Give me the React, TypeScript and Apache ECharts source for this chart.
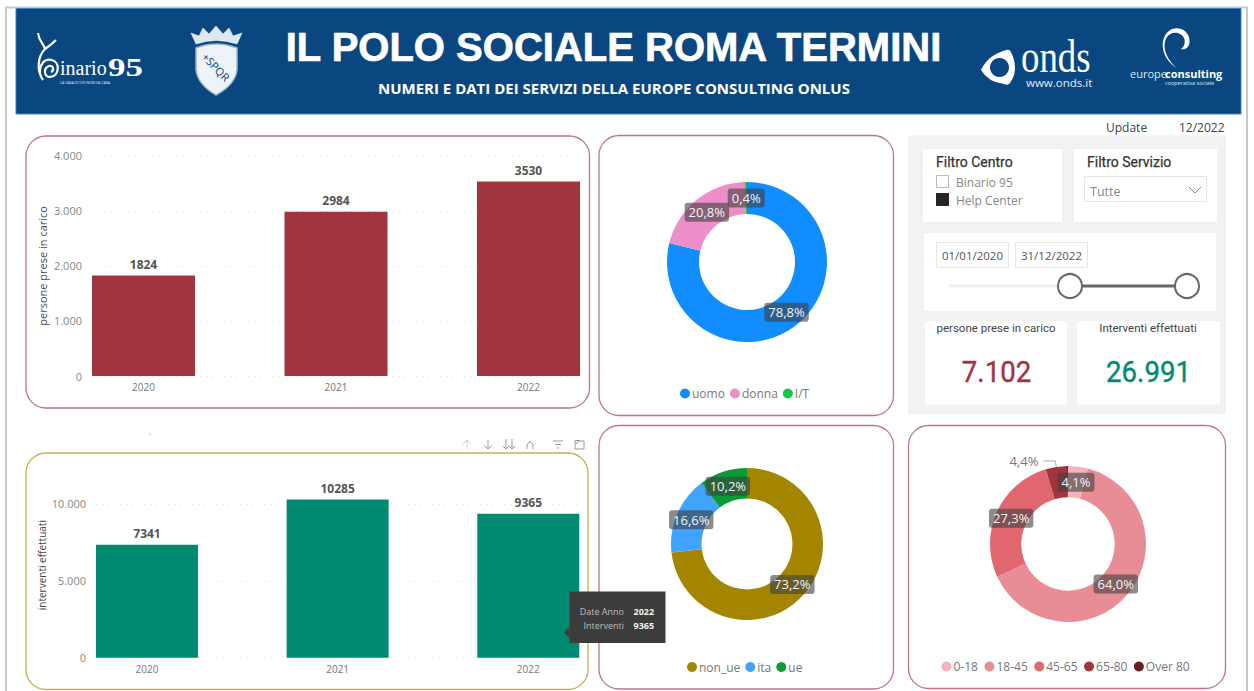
import React, { useEffect, useRef } from "react";
import * as echarts from "echarts";

const years = ["2020", "2021", "2022"];
const persone = [1824, 2984, 3530];
const interventi = [7341, 10285, 9365];

const genderNames = ["uomo", "donna", "I/T"];
const genderValues = [78.8, 20.8, 0.4];
const genderColors = ["#118DFF", "#EC8FC8", "#12C94A"];

const originNames = ["non_ue", "ita", "ue"];
const originValues = [73.2, 16.6, 10.2];
const originColors = ["#A38500", "#3FA3FF", "#0B9A35"];

const ageNames = ["0-18", "18-45", "45-65", "65-80", "Over 80"];
const ageValues = [4.1, 64.0, 27.3, 4.4, 0.2];
const ageColors = ["#F0B4BA", "#E88D96", "#E0666F", "#A0353F", "#6B1C24"];

const UI = '"Open Sans", "Noto Sans", sans-serif';
const DIN = 'Roboto, "Noto Sans", sans-serif';
const HEADER = "#0A4780";
const RED = "#A0353F";
const TEAL = "#008A72";

echarts.graphic.registerShape("snailLogo", echarts.graphic.extendPath(
  "M38 33 C39 42 44 44 45 49 C38 56 36 70 43 80 C36 70 42 58 52 60 C60 62 60 76 50 77 C44 77 43 68 49 66 C53 65 55 70 51 72 M45 49 C48 47 52 44 56 40", {}));
echarts.graphic.registerShape("crestShield", echarts.graphic.extendPath(
  "M196 48 Q216 40 237 48 L237 70 Q235 85 216 95 Q198 85 196 70 Z", {}));
echarts.graphic.registerShape("crestCrown", echarts.graphic.extendPath(
  "M196 44 L191 33 L199 36 L203 28 L209 34 L216 26 L223 34 L229 28 L233 36 L242 33 L237 44 Q216 37 196 44 Z", {}));
echarts.graphic.registerShape("ondsIcon", echarts.graphic.extendPath(
  "M981 70 Q988 55 1006 50 Q1010 49 1011 52 Q1015 60 1015 68 Q1015 76 1010 83 Q1008 86 1004 84 Q988 82 981 70 Z", {}));
echarts.graphic.registerShape("swirl", echarts.graphic.extendPath(
  "M1177 68 C1160 58 1158 36 1172 29 C1184 25 1192 36 1189 45 C1187 49 1184 50 1181 49 C1186 46 1187 36 1178 33 C1168 31 1163 40 1165 50 C1167 58 1172 64 1177 68 Z", {}));

const fmtDot = (v: number) => String(v).replace(/\B(?=(\d{3})+(?!\d))/g, ".");
const fmtPct = (v: number) => v.toFixed(1).replace(".", ",") + "%";

const text = (t: string, x: number, y: number, fill: string, font: string, align = "left", extra: any = {}, styleExtra: any = {}) => ({
  type: "text",
  z: 5,
  ...extra,
  style: { text: t, x, y, fill, font, textAlign: align, textVerticalAlign: "middle", ...styleExtra },
});
const box = (x: number, y: number, w: number, h: number, fill: string, stroke?: string, r = 0, lw = 1, z = 1) => ({
  type: "rect",
  z,
  shape: { x, y, width: w, height: h, r },
  style: { fill, stroke: stroke ?? "none", lineWidth: lw },
});
const poly = (points: number[][], stroke: string, lw = 1, z = 5) => ({
  type: "polyline",
  z,
  shape: { points },
  style: { stroke, fill: "none", lineWidth: lw },
});

function barAxis(gridIndex: number, halfSpan: number) {
  return {
    type: "value",
    gridIndex,
    z: 2,
    min: -halfSpan,
    max: 2 + halfSpan,
    splitLine: { show: false },
    axisLine: { show: false },
    axisTick: { show: false },
    axisLabel: {
      customValues: [0, 1, 2],
      formatter: (v: number) => years[Math.round(v)],
      color: "#777",
      fontSize: 10,
      fontFamily: UI,
      margin: 6,
    },
  };
}
const splitDots = { show: true, showMaxLine: false, lineStyle: { color: "#DDD", type: [1, 5], width: 1 } };

function barSeries(values: number[], color: string, gridIndex: number, width: number) {
  return {
    type: "bar",
    xAxisIndex: gridIndex,
    yAxisIndex: gridIndex,
    barWidth: width,
    z: 3,
    data: values.map((v, i) => [i, v]),
    itemStyle: { color },
    label: {
      show: true,
      position: "top",
      distance: 5,
      formatter: (p: any) => String(p.value[1]),
      color: "#555",
      fontSize: 12,
      fontWeight: "bold",
      fontFamily: UI,
    },
  };
}

function donut(names: string[], values: number[], colors: string[], cx: number, cy: number, r0: number, r: number) {
  return {
    type: "pie",
    center: [cx, cy],
    radius: [r0, r],
    startAngle: 90,
    clockwise: true,
    avoidLabelOverlap: false,
    silent: true,
    z: 3,
    labelLayout: (p: any) => {
      if (names[p.dataIndex] === "65-80") return {};
      const dx = p.labelRect.x + p.labelRect.width / 2 - cx;
      const dy = p.labelRect.y + p.labelRect.height / 2 - cy;
      const d = Math.hypot(dx, dy) || 1;
      return { dx: (-3 * dx) / d, dy: (-3 * dy) / d };
    },
    label: {
      show: true,
      position: "inside",
      formatter: (p: any) => fmtPct(p.value),
      color: "#F4F4F4",
      fontSize: 13,
      fontFamily: UI,
      backgroundColor: "rgba(64,64,64,0.6)",
      borderRadius: 3,
      padding: [3, 4, 3, 4],
    },
    data: names.map((name, i) => {
      const item: any = { name, value: values[i], itemStyle: { color: colors[i] } };
      if (name === "Over 80") item.label = { show: false };
      if (name === "65-80") {
        item.label = {
          position: "outside",
          color: "#777",
          backgroundColor: "transparent",
          padding: 0,
          alignTo: "none",
        };
        item.labelLine = { show: true, length: 6, length2: 12, smooth: false, lineStyle: { color: "#AAA", width: 1 } };
      }
      return item;
    }),
  };
}

function legend(names: string[], left: number, top: number, gap: number) {
  return {
    data: names,
    left,
    top,
    orient: "horizontal",
    icon: "circle",
    itemWidth: 10,
    itemHeight: 10,
    itemGap: gap,
    padding: 0,
    selectedMode: false,
    textStyle: { color: "#777", fontSize: 12, fontFamily: UI, padding: [0, 0, 0, -3] },
  };
}

function buildGraphics() {
  const CARD = "#C0767E";
  const GOLD = "#C9AE4E";
  const els: any[] = [
    // page frame + header
    poly([[6, 691], [6, 7.5], [1247, 7.5], [1247, 691]], "#C8C8C8", 2, 0),
    box(16, 8.5, 1225, 105.5, HEADER, "#3F83BE", 0, 1),
    text("IL POLO SOCIALE ROMA TERMINI", 613.5, 47, "#FFFFFF", 'bold 40px "Liberation Sans", sans-serif', "center", {}, { stroke: "#FFFFFF", lineWidth: 0.7 }),
    text("NUMERI E DATI DEI SERVIZI DELLA EUROPE CONSULTING ONLUS", 614, 87.5, "#FFFFFF", `bold 15px ${UI}`, "center"),

    // binario95 logo
    { type: "snailLogo", z: 4, style: { fill: "none", stroke: "#FFFFFF", lineWidth: 2.2 } },
    text("inario", 60, 68, "#FFFFFF", '20px "Liberation Serif", serif'),
    text("95", 108, 68, "#FFFFFF", 'bold 25px "Liberation Serif", serif', "left", { scaleX: 1.4, originX: 108, originY: 68 }),
    text("LA CASA DI CHI NON HA CASA", 60, 82, "#E6EEF5", `3.6px ${UI}`),

    // crest
    { type: "crestCrown", z: 4, style: { fill: "#DCE7F0", stroke: "#FFFFFF", lineWidth: 0.5 } },
    { type: "crestShield", z: 4, style: { fill: "#EEF3F8", stroke: "#9DB5CB", lineWidth: 1.5 } },
    text("+SPQR", 216, 67, HEADER, `11px ${UI}`, "center", { rotation: -0.8, originX: 216, originY: 67 }),

    // onds logo
    { type: "ondsIcon", z: 4, style: { fill: "#FFFFFF" } },
    { type: "circle", z: 5, shape: { cx: 999.5, cy: 67.5, r: 9.5 }, style: { fill: HEADER } },
    text("onds", 1021, 57, "#FFFFFF", '46px "Liberation Serif", serif', "left", { scaleX: 0.8, originX: 1021, originY: 57 }),
    text("www.onds.it", 1026, 82.5, "#E6EEF5", `11.5px ${UI}`),

    // europeconsulting logo
    { type: "swirl", z: 4, style: { fill: "#FFFFFF" } },
    text("europe", 1130, 73.5, "#DDE7F0", `11px ${UI}`),
    text("consulting", 1165, 73.5, "#FFFFFF", `bold 11px ${UI}`),
    text("cooperativa sociale", 1165, 83, "#DDE7F0", `5.5px ${UI}`),

    // update
    text("Update", 1106, 127, "#444", `12px ${UI}`),
    text("12/2022", 1179, 127, "#444", `12px ${UI}`),

    // cards
    box(26, 136, 563.5, 272, "#FFF", CARD, 20, 1.3),
    box(599, 135.5, 294.5, 280, "#FFF", CARD, 20, 1.3),
    box(26, 453, 562, 236.5, "#FFF", GOLD, 20, 1.3),
    box(599, 425.5, 294.5, 263.5, "#FFF", CARD, 20, 1.3),
    box(908.5, 425.5, 317, 263, "#FFF", CARD, 20, 1.3),

    // filter panel
    box(908, 135.5, 318, 278.5, "#F2F2F2"),
    box(923, 149, 139, 73, "#FFF", undefined, 0, 1, 2),
    box(1074, 149, 143, 73, "#FFF", undefined, 0, 1, 2),
    box(924, 233, 292, 78, "#FFF", undefined, 0, 1, 2),
    box(925, 321, 142, 83.5, "#FFF", undefined, 0, 1, 2),
    box(1077, 321, 143, 83.5, "#FFF", undefined, 0, 1, 2),

    text("Filtro Centro", 936, 162, "#333", `14px ${DIN}`, "left", {}, { stroke: "#333", lineWidth: 0.25 }),
    box(936.5, 175.5, 12, 12, "#FFF", "#BBB", 0, 1, 3),
    box(936, 193, 13, 13, "#252525", undefined, 0, 1, 3),
    text("Binario 95", 956, 182, "#888", `12px ${UI}`),
    text("Help Center", 956, 200, "#888", `12px ${UI}`),

    text("Filtro Servizio", 1087, 162, "#333", `14px ${DIN}`, "left", {}, { stroke: "#333", lineWidth: 0.25 }),
    box(1084.5, 176.5, 122, 25, "#FFF", "#E6E6E6", 0, 1, 3),
    text("Tutte", 1090, 191, "#888", `12.5px ${UI}`),
    poly([[1189, 187], [1195, 193], [1201, 187]], "#888", 1),

    box(936.5, 242.5, 72, 25, "#FFF", "#E6E6E6", 0, 1, 3),
    box(1015.5, 242.5, 72, 25, "#FFF", "#E6E6E6", 0, 1, 3),
    text("01/01/2020", 972.5, 255.5, "#555", `11.5px ${UI}`, "center"),
    text("31/12/2022", 1051.5, 255.5, "#555", `11.5px ${UI}`, "center"),
    { type: "line", z: 3, shape: { x1: 949, y1: 286, x2: 1070, y2: 286 }, style: { stroke: "#EFEFEF", lineWidth: 3 } },
    { type: "line", z: 3, shape: { x1: 1070, y1: 286, x2: 1187, y2: 286 }, style: { stroke: "#666", lineWidth: 3 } },
    { type: "circle", z: 4, shape: { cx: 1070, cy: 286, r: 12 }, style: { fill: "#FFF", stroke: "#666", lineWidth: 2 } },
    { type: "circle", z: 4, shape: { cx: 1187, cy: 286, r: 12 }, style: { fill: "#FFF", stroke: "#666", lineWidth: 2 } },

    text("persone prese in carico", 996, 328, "#444", `11.5px ${DIN}`, "center"),
    text("7.102", 996.5, 372, RED, `30px ${DIN}`, "center", { scaleX: 0.92, originX: 996.5, originY: 372 }, { stroke: RED, lineWidth: 0.4 }),
    text("Interventi effettuati", 1148, 328, "#444", `11.5px ${DIN}`, "center"),
    text("26.991", 1148.5, 372, TEAL, `30px ${DIN}`, "center", { scaleX: 0.92, originX: 1148.5, originY: 372 }, { stroke: TEAL, lineWidth: 0.4 }),

    // small mark above the lower bar card
    { type: "line", z: 1, shape: { x1: 150, y1: 433, x2: 150, y2: 435 }, style: { stroke: "#BBB", lineWidth: 1 } },

    // visual toolbar
    poly([[467, 449], [467, 440]], "#CCC"), poly([[463, 444], [467, 440], [471, 444]], "#CCC"),
    poly([[488, 440], [488, 449]], "#999"), poly([[484, 445], [488, 449], [492, 445]], "#999"),
    poly([[506, 439], [506, 449]], "#999"), poly([[503, 446], [506, 449], [509, 446]], "#999"),
    poly([[512, 439], [512, 449]], "#999"), poly([[509, 446], [512, 449], [515, 446]], "#999"),
    poly([[527, 449], [527, 445], [530, 441], [533, 445], [533, 449]], "#999"),
    poly([[553, 441], [563, 441]], "#999"), poly([[555, 444.5], [561, 444.5]], "#999"), poly([[557, 448], [559, 448]], "#999"),
    poly([[579, 441], [584, 441], [584, 449], [575, 449], [575, 445]], "#999"),
    poly([[575, 444], [575, 440.5], [579, 440.5]], "#999"), poly([[575, 445], [580, 440]], "#999"),

    // pinned tooltip
    { type: "polygon", z: 20, shape: { points: [[569.5, 627], [564, 632.5], [569.5, 638]] }, style: { fill: "#3C3C3C" } },
    box(569.5, 591.5, 96, 51.5, "#3C3C3C", undefined, 0, 1, 20),
    text("Date Anno", 624, 611, "#BEBEBE", `9px ${UI}`, "right", { z: 21 }),
    text("Interventi", 624, 625, "#BEBEBE", `9px ${UI}`, "right", { z: 21 }),
    text("2022", 633.5, 611, "#F0F0F0", `bold 9px ${UI}`, "left", { z: 21 }),
    text("9365", 633.5, 625, "#F0F0F0", `bold 9px ${UI}`, "left", { z: 21 }),
  ];
  return els;
}

export default function App() {
  const ref = useRef<HTMLDivElement>(null);
  useEffect(() => {
    document.body.style.margin = "0";
    document.body.style.background = "#FFFFFF";
    const chart = echarts.init(ref.current!, null, { renderer: "svg" });
    chart.setOption({
      animation: false,
      backgroundColor: "#FFFFFF",
      textStyle: { fontFamily: UI },
      graphic: { elements: buildGraphics() },
      grid: [
        { left: 92, top: 155.7, width: 488, height: 220.3 },
        { left: 96, top: 488.6, width: 483.3, height: 169.1 },
      ],
      xAxis: [barAxis(0, 0.2675), barAxis(1, 0.2675)],
      yAxis: [
        {
          type: "value",
          gridIndex: 0,
          z: 2,
          min: 0,
          max: 4000,
          interval: 1000,
          name: "persone prese in carico",
          nameLocation: "middle",
          nameGap: 44,
          nameTextStyle: { color: "#3F4A55", fontSize: 11, fontFamily: UI },
          axisLine: { show: false },
          axisTick: { show: false },
          axisLabel: { color: "#888", fontSize: 11, fontFamily: UI, margin: 10, formatter: fmtDot },
          splitLine: { ...splitDots, showMaxLine: true },
        },
        {
          type: "value",
          gridIndex: 1,
          z: 2,
          min: 0,
          max: 11000,
          interval: 5000,
          name: "interventi effettuati",
          nameLocation: "middle",
          nameGap: 49,
          nameTextStyle: { color: "#444", fontSize: 10, fontFamily: UI, padding: [0, 0, 0, 16] },
          axisLine: { show: false },
          axisTick: { show: false },
          axisLabel: { color: "#888", fontSize: 11, fontFamily: UI, margin: 10, showMaxLabel: false, formatter: fmtDot },
          splitLine: splitDots,
        },
      ],
      legend: [
        legend(genderNames, 680, 387.5, 5),
        legend(originNames, 687, 661, 5),
        legend(ageNames, 941.5, 660.5, 6.5),
      ],
      series: [
        barSeries(persone, RED, 0, 103),
        barSeries(interventi, TEAL, 1, 102),
        donut(genderNames, genderValues, genderColors, 747, 262, 48, 80),
        donut(originNames, originValues, originColors, 747, 544, 45.5, 76),
        donut(ageNames, ageValues, ageColors, 1068, 544, 46.7, 78),
      ],
    });
    return () => chart.dispose();
  }, []);
  return <div ref={ref} style={{ width: 1254, height: 691 }} />;
}
